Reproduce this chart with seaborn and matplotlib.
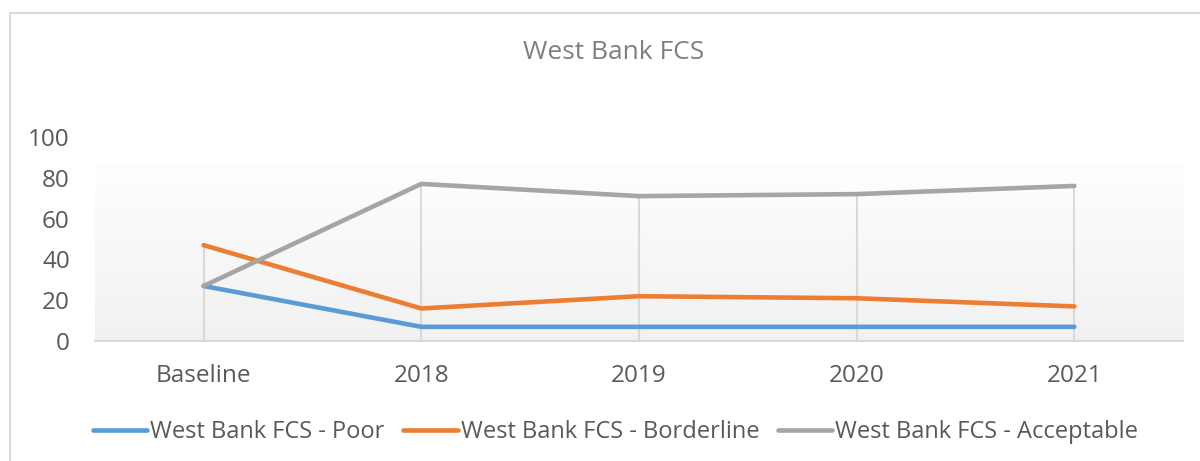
import numpy as np
import pandas as pd
import seaborn as sns
import matplotlib.pyplot as plt
from matplotlib.lines import Line2D
from matplotlib.colors import LinearSegmentedColormap

categories = ["Baseline", "2018", "2019", "2020", "2021"]
poor = [27, 7, 7, 7, 7]
borderline = [47, 16, 22, 21, 17]
acceptable = [27, 77, 71, 72, 76]
series_names = ["West Bank FCS - Poor", "West Bank FCS - Borderline", "West Bank FCS - Acceptable"]
colors = ["#5b9bd5", "#ed7d31", "#a5a5a5"]

rows = []
for name, vals in zip(series_names, [poor, borderline, acceptable]):
    for i, v in enumerate(vals):
        rows.append({"pos": i, "cat": categories[i], "value": v, "series": name})
df = pd.DataFrame(rows)

sns.set_style("white")
plt.rcParams['font.family'] = ['Open Sans', 'DejaVu Sans']

fig = plt.figure(figsize=(12, 4.61), dpi=100)
ax = fig.add_axes([0.079, 0.260, 0.907, 0.443])

# gradient fill of the plot area
grad = np.linspace(0, 1, 256).reshape(-1, 1)
ax.imshow(grad, extent=(-0.5, 4.5, 0, 86), aspect="auto", origin="lower",
          cmap=LinearSegmentedColormap.from_list("g", ["#f1f1f1", "#fefefe"]),
          zorder=0)

# drop lines
tops = df.groupby("pos")["value"].max()
ax.vlines(tops.index, 0, tops.values, color="#d9d9d9", lw=1.5, zorder=1)

sns.lineplot(data=df, x="pos", y="value", hue="series", palette=colors,
             linewidth=3.3, ax=ax, legend=False, zorder=3, solid_capstyle="round")

ax.set_xlim(-0.5, 4.5)
ax.set_ylim(0, 100)
ax.set_xticks(range(len(categories)))
ax.set_xticklabels(categories)
ax.set_yticks(range(0, 101, 20))
ax.set_xlabel("")
ax.set_ylabel("")
for s in ["top", "right", "left"]:
    ax.spines[s].set_visible(False)
ax.spines["bottom"].set_color("#d9d9d9")
ax.spines["bottom"].set_linewidth(1.5)
ax.tick_params(axis="both", length=0, labelsize=17.5, colors="#595959")
ax.tick_params(axis="y", pad=18)
ax.tick_params(axis="x", pad=16.5)

fig.text(0.511, 0.887, "West Bank FCS", ha="center", va="center", fontsize=19, color="#7f7f7f")

handles = [Line2D([0], [0], color=c, lw=3.3) for c in colors]
fig.legend(handles, series_names, loc="center", bbox_to_anchor=(0.513, 0.063), ncol=3,
           frameon=False, fontsize=17, handlelength=2.3, handletextpad=0.12,
           columnspacing=0.8, labelcolor="#595959")

# chart border
fig.add_artist(Line2D([10 / 1200, 10 / 1200, 1.0], [0, 1 - 13 / 461, 1 - 13 / 461],
                      transform=fig.transFigure, color="#d9d9d9", lw=1.5))

fig.savefig("out.png", dpi=100, facecolor="white")
